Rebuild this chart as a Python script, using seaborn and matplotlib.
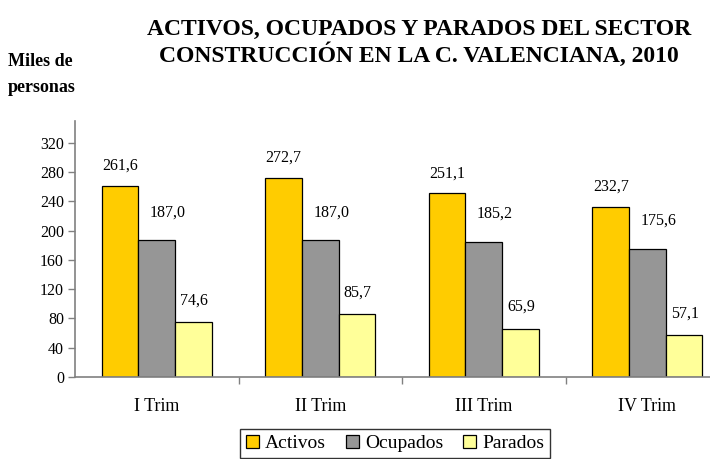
import pandas as pd
import matplotlib.pyplot as plt
import seaborn as sns

trimestres = ['I Trim', 'II Trim', 'III Trim', 'IV Trim']
activos = [261.6, 272.7, 251.1, 232.7]
ocupados = [187.0, 187.0, 185.2, 175.6]
parados = [74.6, 85.7, 65.9, 57.1]
series = ['Activos', 'Ocupados', 'Parados']
colores = ['#FFCC00', '#969696', '#FFFF99']

datos = pd.DataFrame({
    'trim': trimestres * 3,
    'serie': [s for s in series for _ in trimestres],
    'valor': activos + ocupados + parados,
})

sns.set_style('white')
plt.rcParams['font.family'] = ['Liberation Serif', 'DejaVu Serif']
plt.rcParams['text.color'] = 'black'
plt.rcParams['xtick.labelcolor'] = 'black'
plt.rcParams['ytick.labelcolor'] = 'black'

fig = plt.figure(figsize=(7.1, 4.59), dpi=100)
ax = fig.add_axes([75 / 710, 82 / 459, 654 / 710, 256 / 459])

sns.barplot(data=datos, x='trim', y='valor', hue='serie', palette=colores,
            saturation=1, width=0.67, edgecolor='black', linewidth=0.9,
            ax=ax, legend=True)

# etiquetas de valor, desplazadas como en el original
offsets = {'Activos': (0, 20), 'Ocupados': (11, 28), 'Parados': (1, 22)}
for cont, s in zip(ax.containers, series):
    for bar in cont:
        h = bar.get_height()
        ax.annotate(f'{h:.1f}'.replace('.', ','),
                    (bar.get_x() + bar.get_width() / 2, h),
                    xytext=offsets[s], textcoords='offset pixels',
                    ha='center', va='center', fontsize=11.5)

ax.set_ylim(0, 350)
ax.set_xlim(-0.5, 3.5)
ax.set_yticks(range(0, 321, 40))
ax.tick_params(axis='y', labelsize=11.5, length=5, width=1, color='#808080',
               left=True, direction='out', pad=3)
ax.set_xticks([0.5, 1.5, 2.5], minor=True)
ax.tick_params(axis='x', which='major', length=0, labelsize=13, pad=15)
ax.tick_params(axis='x', which='minor', length=5, width=1, color='#808080',
               bottom=True, direction='out')
ax.set_xlabel('')
ax.set_ylabel('')
for side in ['top', 'right']:
    ax.spines[side].set_visible(False)
for side in ['left', 'bottom']:
    ax.spines[side].set_color('#808080')
    ax.spines[side].set_linewidth(1.2)

leg = ax.legend(loc='lower center', bbox_to_anchor=(395 / 710, 0.002),
                bbox_transform=fig.transFigure, ncol=3, fontsize=14,
                frameon=True, fancybox=False, edgecolor='black',
                handlelength=0.7, handleheight=0.7, handletextpad=0.3,
                columnspacing=1.0, borderpad=0.3, borderaxespad=0)
leg.get_frame().set_linewidth(1)

fig.text(419 / 710, 1 - 43 / 459,
         'ACTIVOS, OCUPADOS Y PARADOS DEL SECTOR\nCONSTRUCCIÓN EN LA C. VALENCIANA, 2010',
         ha='center', va='center', fontsize=17, fontweight='bold',
         linespacing=1.15)
fig.text(8 / 710, 1 - 62 / 459, 'Miles de', ha='left', va='center',
         fontsize=13, fontweight='bold')
fig.text(8 / 710, 1 - 88 / 459, 'personas', ha='left', va='center',
         fontsize=13, fontweight='bold')

fig.savefig('out.png', dpi=100)
